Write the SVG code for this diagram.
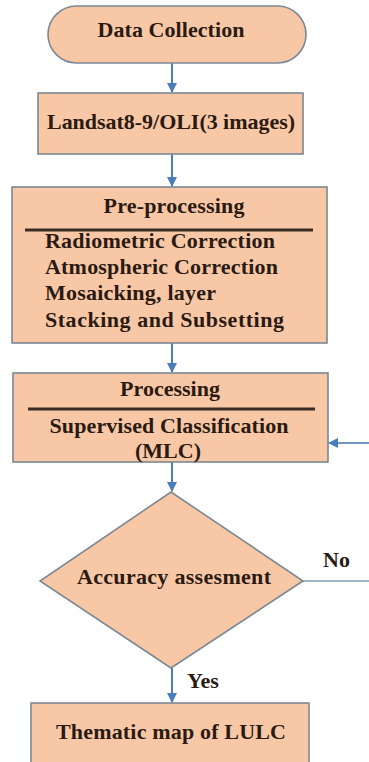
<svg xmlns="http://www.w3.org/2000/svg" width="369" height="762" viewBox="0 0 369 762">
<defs>
<marker id="ah" markerWidth="10" markerHeight="10" refX="9" refY="5" orient="auto" markerUnits="userSpaceOnUse"><path d="M0,0 L10,5 L0,10 Z" fill="#4a7ebb"/></marker>
<style>
.n{fill:#f8c8a6;stroke:#7b8894;stroke-width:1.6}
.t{font-family:"Liberation Serif","Times New Roman",serif;font-weight:bold;font-size:22px;fill:#2a1a12}
.c{text-anchor:middle}
.e{stroke:#4a7ebb;stroke-width:2;fill:none;marker-end:url(#ah)}
.sep{stroke:#3a2c24;stroke-width:3}
</style>
</defs>
<rect width="369" height="762" fill="#ffffff"/>
<g id="connectors">
<line class="e" x1="172" y1="63" x2="172" y2="92"/>
<line class="e" x1="172" y1="154" x2="172" y2="186"/>
<line class="e" x1="172" y1="343" x2="172" y2="372"/>
<line class="e" x1="172" y1="462" x2="172" y2="491"/>
<line class="e" x1="172" y1="668" x2="172" y2="702"/>
<line class="e" x1="369" y1="443" x2="329" y2="443" style="stroke:#7096c2"/>
<line x1="303" y1="581" x2="369" y2="581" stroke="#a3b3bf" stroke-width="2"/>
<text class="t" x="187" y="688">Yes</text>
<text class="t" x="323" y="567">No</text>
</g>
<g id="data-collection">
<rect class="n" x="48" y="6" width="258" height="57" rx="28.5"/>
<text class="t c" x="171" y="37" textLength="147">Data Collection</text>
</g>
<g id="landsat">
<rect class="n" x="38" y="93" width="265" height="61"/>
<text class="t c" x="171" y="129" textLength="248">Landsat8-9/OLI(3 images)</text>
</g>
<g id="pre-processing">
<rect class="n" x="12" y="187" width="315" height="156"/>
<text class="t c" x="174" y="213" textLength="141">Pre-processing</text>
<line class="sep" x1="25" y1="230" x2="313" y2="230"/>
<text class="t" x="45" y="248" textLength="230">Radiometric Correction</text>
<text class="t" x="45" y="274" textLength="233">Atmospheric Correction</text>
<text class="t" x="45" y="300" textLength="171">Mosaicking, layer</text>
<text class="t" x="45" y="327" textLength="239">Stacking and Subsetting</text>
</g>
<g id="processing">
<rect class="n" x="13" y="373" width="315" height="89"/>
<text class="t c" x="170" y="396">Processing</text>
<line class="sep" x1="28" y1="409" x2="315" y2="409"/>
<text class="t c" x="169" y="433" textLength="239">Supervised Classification</text>
<text class="t c" x="168" y="458">(MLC)</text>
</g>
<g id="accuracy">
<polygon class="n" points="171,492 303,581 171,668 40,581"/>
<text class="t c" x="174" y="584" textLength="194">Accuracy assesment</text>
</g>
<g id="thematic-map">
<rect class="n" x="31" y="703" width="278" height="70"/>
<text class="t c" x="171" y="739" textLength="230">Thematic map of LULC</text>
</g>
</svg>
